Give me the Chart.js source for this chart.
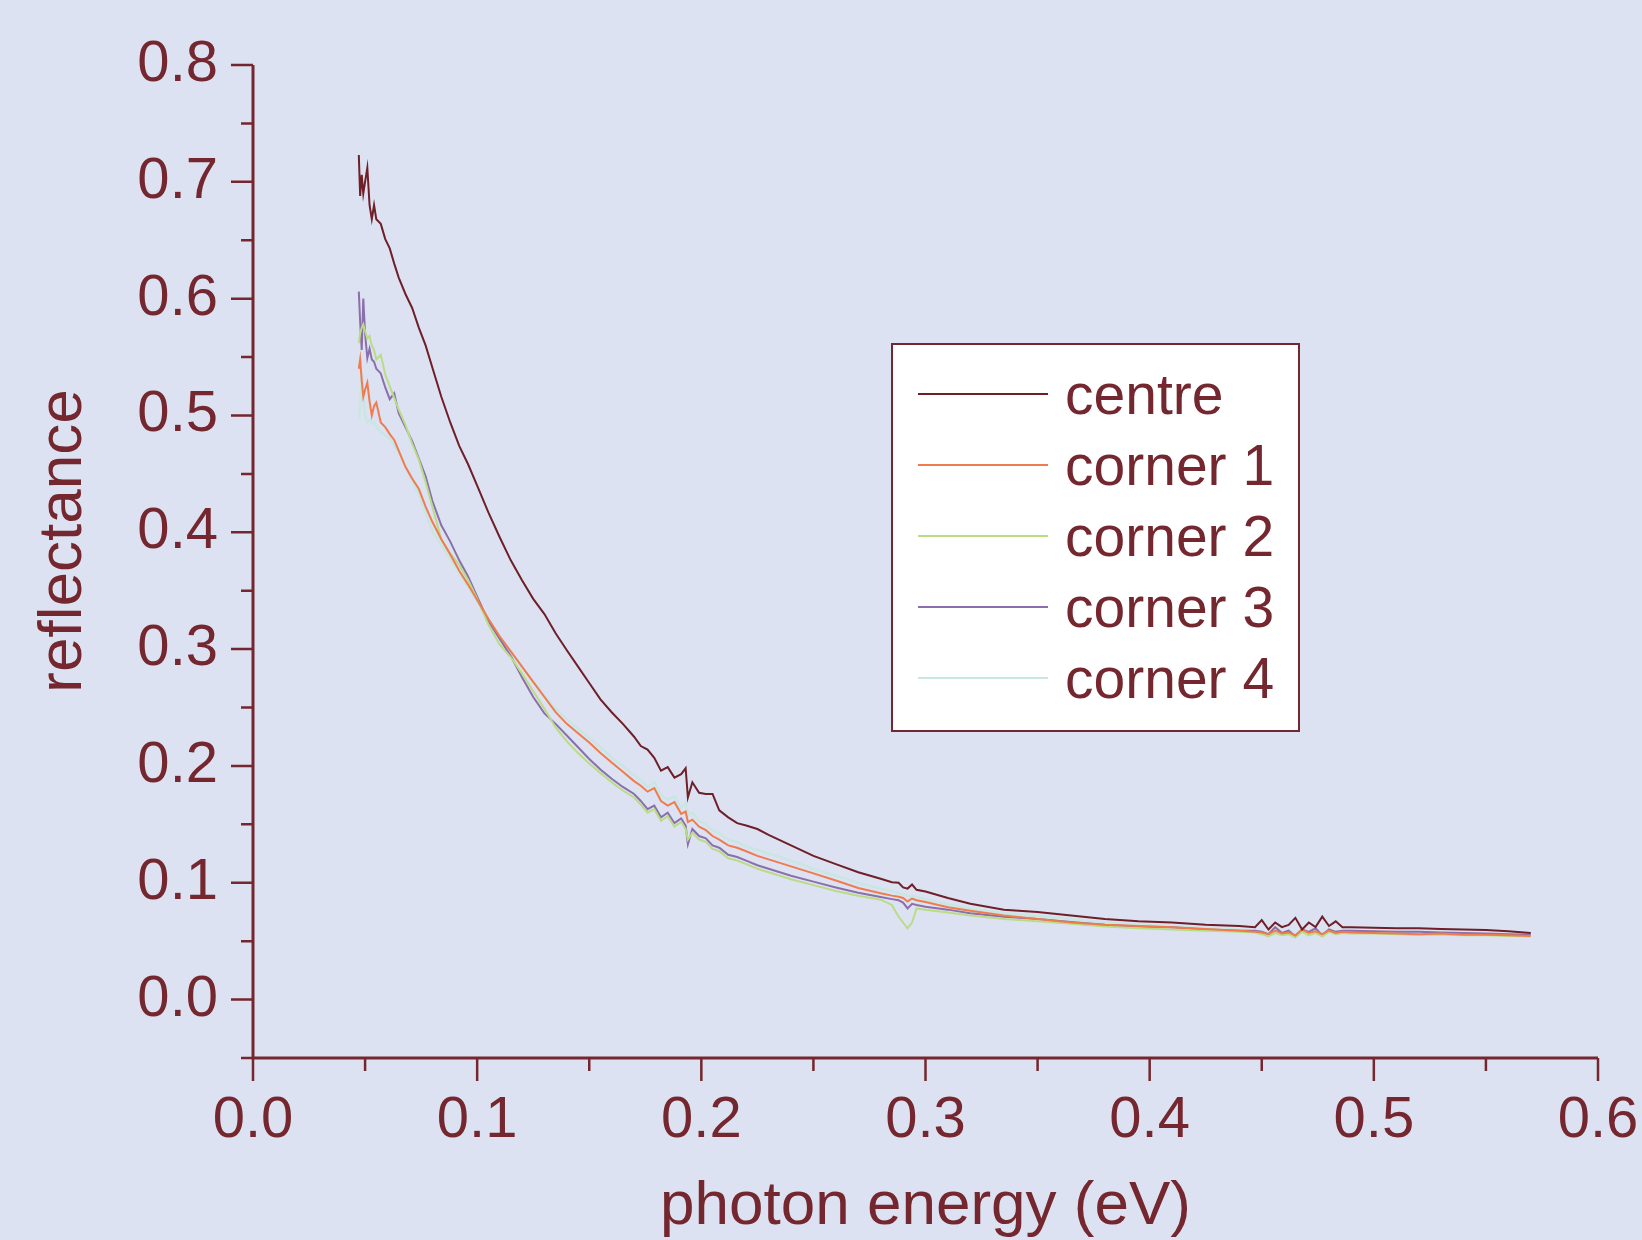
<!DOCTYPE html>
<html><head><meta charset="utf-8">
<script src="https://cdn.jsdelivr.net/npm/chart.js@4.4.1/dist/chart.umd.min.js"></script>
<style>html,body{margin:0;padding:0;background:#dde2f2;}canvas{display:block;}</style>
</head><body>
<canvas id="c" width="1642" height="1240"></canvas>
<script>
// ---- data ----
const energy = [
0.0472,0.0478,0.0485,0.0492,0.050,0.051,0.052,0.053,0.054,0.055,
0.057,0.059,0.061,0.063,0.065,0.068,0.071,0.074,0.077,0.080,
0.084,0.088,0.092,0.096,0.100,0.105,0.110,0.115,0.120,0.125,
0.130,0.135,0.140,0.145,0.150,0.155,0.160,0.165,0.170,0.173,
0.176,0.179,0.182,0.185,0.188,0.191,0.193,0.194,0.196,0.199,
0.202,0.205,0.208,0.212,0.216,0.220,0.225,0.230,0.240,0.250,
0.260,0.270,0.280,0.285,0.288,0.290,0.292,0.294,0.296,0.300,
0.310,0.320,0.335,0.350,0.365,0.380,0.395,0.410,0.425,0.440,
0.447,0.450,0.453,0.456,0.459,0.462,0.465,0.468,0.471,0.474,
0.477,0.480,0.483,0.486,0.490,0.500,0.510,0.520,0.530,0.540,
0.550,0.560,0.570
];
const centre = [
0.723,0.688,0.706,0.690,0.700,0.712,0.680,0.668,0.680,0.668,
0.664,0.651,0.643,0.630,0.618,0.604,0.592,0.575,0.560,0.541,
0.516,0.494,0.474,0.458,0.440,0.417,0.396,0.376,0.359,0.343,
0.330,0.3135,0.299,0.285,0.271,0.257,0.246,0.236,0.225,0.217,
0.214,0.207,0.196,0.199,0.190,0.193,0.198,0.173,0.186,0.177,
0.176,0.176,0.162,0.156,0.151,0.149,0.146,0.141,0.132,0.123,
0.116,0.109,0.1035,0.1005,0.100,0.096,0.095,0.0985,0.094,0.0925,
0.087,0.082,0.077,0.075,0.072,0.069,0.067,0.066,0.064,0.063,
0.062,0.068,0.060,0.066,0.062,0.064,0.070,0.060,0.066,0.062,
0.071,0.063,0.067,0.062,0.062,0.0615,0.061,0.061,0.0605,0.060,
0.0595,0.0585,0.057
];
const corner1 = [
0.540,0.548,0.530,0.516,0.522,0.528,0.512,0.500,0.508,0.511,
0.494,0.490,0.484,0.479,0.470,0.456,0.446,0.437,0.422,0.409,
0.394,0.381,0.367,0.355,0.342,0.326,0.311,0.298,0.285,0.272,
0.259,0.246,0.236,0.228,0.220,0.211,0.203,0.195,0.187,0.183,
0.178,0.181,0.170,0.166,0.169,0.159,0.161,0.152,0.154,0.148,
0.145,0.140,0.137,0.132,0.130,0.127,0.123,0.120,0.114,0.108,
0.102,0.0955,0.091,0.089,0.088,0.087,0.084,0.0865,0.085,0.0835,
0.079,0.076,0.072,0.069,0.066,0.064,0.063,0.062,0.0605,0.059,
0.058,0.0575,0.056,0.059,0.0565,0.0575,0.055,0.060,0.057,0.0585,
0.056,0.059,0.057,0.058,0.0575,0.057,0.0565,0.056,0.0565,0.0555,
0.0555,0.055,0.0545
];
const corner2 = [
0.562,0.570,0.575,0.578,0.572,0.566,0.568,0.560,0.556,0.548,
0.552,0.535,0.525,0.515,0.505,0.492,0.476,0.462,0.443,0.422,
0.394,0.382,0.372,0.359,0.343,0.321,0.304,0.293,0.279,0.264,
0.249,0.233,0.221,0.211,0.202,0.194,0.186,0.179,0.173,0.167,
0.160,0.163,0.153,0.157,0.148,0.152,0.146,0.137,0.143,0.137,
0.135,0.129,0.127,0.121,0.119,0.116,0.112,0.109,0.103,0.098,
0.093,0.0888,0.0855,0.081,0.071,0.066,0.061,0.066,0.078,0.077,
0.0745,0.072,0.069,0.067,0.065,0.0625,0.061,0.060,0.059,0.058,
0.0575,0.056,0.054,0.057,0.055,0.056,0.053,0.058,0.055,0.057,
0.054,0.058,0.056,0.057,0.0565,0.0565,0.056,0.0555,0.0555,0.055,
0.055,0.0545,0.054
];
const corner3 = [
0.606,0.580,0.556,0.600,0.570,0.549,0.557,0.548,0.546,0.540,
0.536,0.524,0.514,0.519,0.502,0.490,0.478,0.463,0.448,0.427,
0.406,0.392,0.376,0.362,0.345,0.324,0.309,0.294,0.276,0.259,
0.245,0.236,0.226,0.216,0.206,0.197,0.189,0.182,0.176,0.170,
0.163,0.166,0.156,0.160,0.151,0.155,0.149,0.133,0.146,0.140,
0.138,0.132,0.130,0.124,0.122,0.119,0.115,0.112,0.106,0.101,
0.096,0.0914,0.0878,0.086,0.085,0.083,0.078,0.082,0.081,0.0795,
0.077,0.074,0.071,0.069,0.0665,0.064,0.0625,0.062,0.060,0.059,
0.059,0.058,0.056,0.062,0.057,0.059,0.054,0.060,0.058,0.061,
0.055,0.060,0.058,0.059,0.059,0.0585,0.058,0.058,0.0575,0.057,
0.0565,0.056,0.0555
];
const corner4 = [
0.497,0.510,0.535,0.520,0.500,0.494,0.496,0.493,0.494,0.490,
0.486,0.483,0.480,0.474,0.468,0.457,0.444,0.432,0.417,0.401,
0.389,0.377,0.365,0.353,0.341,0.326,0.311,0.297,0.284,0.272,
0.260,0.249,0.240,0.232,0.224,0.216,0.207,0.200,0.192,0.188,
0.182,0.186,0.175,0.171,0.174,0.164,0.168,0.158,0.160,0.153,
0.150,0.145,0.142,0.137,0.135,0.131,0.128,0.125,0.119,0.112,
0.106,0.100,0.095,0.093,0.091,0.090,0.089,0.0885,0.088,0.086,
0.0815,0.078,0.074,0.0715,0.069,0.066,0.064,0.0625,0.061,0.060,
0.059,0.0585,0.057,0.061,0.056,0.060,0.055,0.061,0.057,0.060,
0.056,0.061,0.058,0.059,0.058,0.058,0.0575,0.057,0.057,0.0565,
0.056,0.0555,0.055
];
const seriesNames = ['centre','corner 1','corner 2','corner 3','corner 4'];
const seriesValues = [centre, corner1, corner2, corner3, corner4];
const seriesColors = ['#6e1f27','#f07c4e','#b9dc84','#8b6fab','#c8e6e2'];
const xTickValues = [0.0,0.1,0.2,0.3,0.4,0.5,0.6];
const xMinorValues = [0.05,0.15,0.25,0.35,0.45,0.55];
const yTickValues = [0.0,0.1,0.2,0.3,0.4,0.5,0.6,0.7,0.8];
const yMinorValues = [-0.05,0.05,0.15,0.25,0.35,0.45,0.55,0.65,0.75];
const xTitle = 'photon energy (eV)';
const yTitle = 'reflectance';

// ---- style ----
const BG = '#dde2f2';
const INK = '#74272e';
const FONT = '"Liberation Sans", Arial, Helvetica, sans-serif';

const decor = {
  id: 'decor',
  beforeDraw(chart) {
    const c = chart.ctx;
    c.save(); c.fillStyle = BG; c.fillRect(0, 0, chart.width, chart.height); c.restore();
  },
  beforeDatasetsDraw(chart) {
    const c = chart.ctx, xs = chart.scales.x, ys = chart.scales.y;
    const L = chart.chartArea.left, B = chart.chartArea.bottom;
    c.save();
    c.strokeStyle = INK; c.lineCap = 'butt';
    c.lineWidth = 3;
    c.beginPath();
    c.moveTo(L, ys.getPixelForValue(yTickValues[yTickValues.length - 1]));
    c.lineTo(L, B);
    c.lineTo(xs.getPixelForValue(xTickValues[xTickValues.length - 1]), B);
    c.stroke();
    c.lineWidth = 2.5;
    c.beginPath();
    yTickValues.forEach(v => { const p = ys.getPixelForValue(v); c.moveTo(L - 22, p); c.lineTo(L, p); });
    yMinorValues.forEach(v => { const p = ys.getPixelForValue(v); c.moveTo(L - 12, p); c.lineTo(L, p); });
    xTickValues.forEach(v => { const p = xs.getPixelForValue(v); c.moveTo(p, B); c.lineTo(p, B + 23); });
    xMinorValues.forEach(v => { const p = xs.getPixelForValue(v); c.moveTo(p, B); c.lineTo(p, B + 13); });
    c.stroke();
    c.restore();
  },
  afterDraw(chart) {
    const c = chart.ctx, ca = chart.chartArea;
    c.save();
    c.fillStyle = INK;
    c.font = '62px ' + FONT;
    c.textAlign = 'center';
    c.textBaseline = 'alphabetic';
    c.fillText(xTitle, (ca.left + ca.right) / 2, 1224);
    c.save();
    c.translate(81, 541);
    c.rotate(-Math.PI / 2);
    c.fillText(yTitle, 0, 0);
    c.restore();
    // legend
    const bx = 892, by = 344, bw = 407, bh = 387;
    c.fillStyle = '#ffffff';
    c.fillRect(bx, by, bw, bh);
    c.strokeStyle = INK; c.lineWidth = 2;
    c.strokeRect(bx, by, bw, bh);
    c.font = '57px ' + FONT;
    c.textAlign = 'left';
    chart.data.datasets.forEach((ds, i) => {
      const ly = 394 + i * 71;
      c.strokeStyle = ds.borderColor; c.lineWidth = 2;
      c.beginPath(); c.moveTo(918, ly); c.lineTo(1048, ly); c.stroke();
      c.fillStyle = INK;
      c.fillText(ds.label, 1065, ly + 20);
    });
    c.restore();
  }
};

new Chart(document.getElementById('c'), {
  type: 'scatter',
  data: {
    datasets: seriesNames.map((name, k) => ({
      label: name,
      data: energy.map((e, i) => ({ x: e, y: seriesValues[k][i] })),
      showLine: true,
      borderColor: seriesColors[k],
      backgroundColor: seriesColors[k],
      borderWidth: k === 4 ? 2.5 : 2,
      pointRadius: 0,
      tension: 0
    }))
  },
  options: {
    responsive: false,
    animation: false,
    devicePixelRatio: 1,
    layout: { padding: { top: 65, right: 44, left: 0, bottom: 0 } },
    plugins: { legend: { display: false }, tooltip: { enabled: false } },
    scales: {
      x: {
        type: 'linear', min: 0, max: 0.6,
        afterBuildTicks: s => { s.ticks = xTickValues.map(v => ({ value: v })); },
        afterFit: s => { s.height = 182; s.paddingLeft = 0; s.paddingRight = 0; },
        ticks: { color: INK, font: { family: FONT, size: 58 }, padding: 28,
                 maxRotation: 0, minRotation: 0, autoSkip: false, callback: v => v.toFixed(1) },
        grid: { display: false, drawTicks: false },
        border: { display: false }
      },
      y: {
        type: 'linear', min: -0.05, max: 0.8,
        afterBuildTicks: s => { s.ticks = yTickValues.map(v => ({ value: v })); },
        afterFit: s => { s.width = 253; s.paddingTop = 0; s.paddingBottom = 0; },
        ticks: { color: INK, font: { family: FONT, size: 58 }, padding: 35,
                 autoSkip: false, callback: v => v.toFixed(1) },
        grid: { display: false, drawTicks: false },
        border: { display: false }
      }
    }
  },
  plugins: [decor]
});
</script>
</body></html>
